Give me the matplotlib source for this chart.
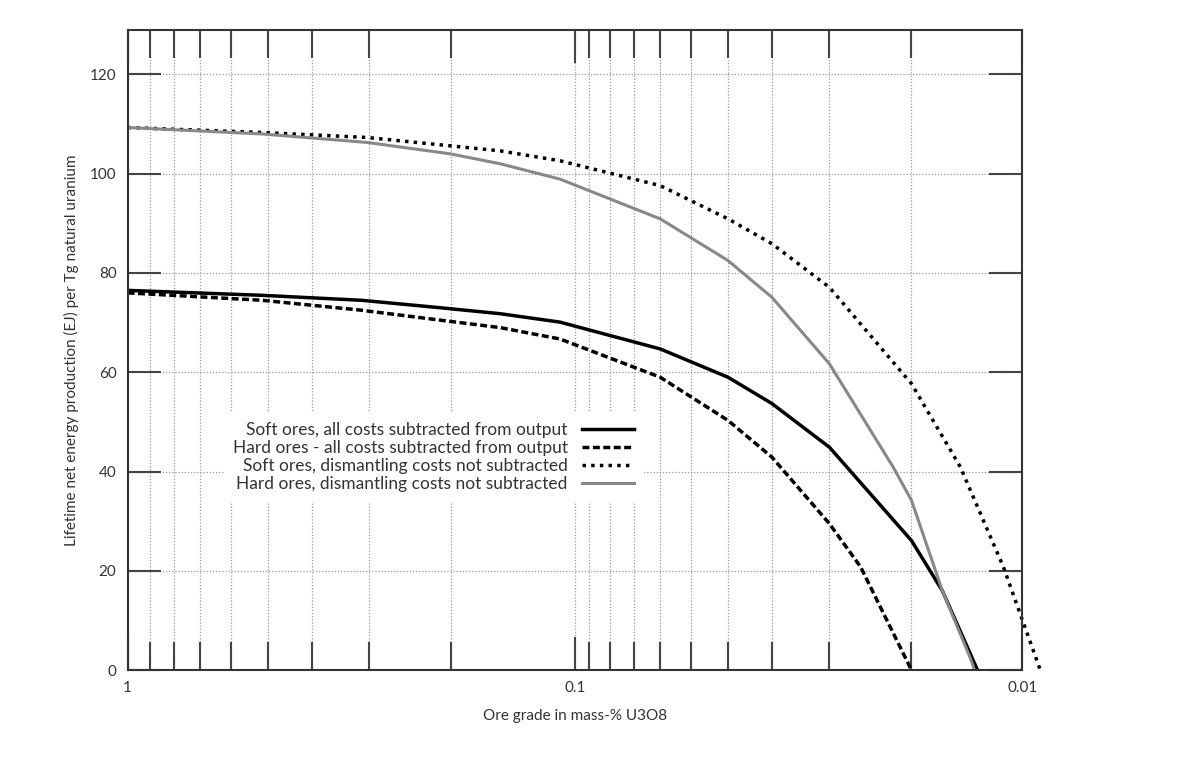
import matplotlib
matplotlib.use("Agg")
import matplotlib.pyplot as plt
from matplotlib.ticker import FixedLocator, NullFormatter

plt.rcParams['font.family'] = ['Lato', 'DejaVu Sans']

grade_soft = [1, 0.5, 0.3, 0.2, 0.147, 0.108, 0.0645, 0.0455, 0.0363, 0.027, 0.0177, 0.0151, 0.0126]
soft_all = [76.5, 75.5, 74.5, 73, 71.8, 70.1, 64.7, 59, 53.7, 44.9, 26.1, 16, 0]
grade_hard = [1, 0.5, 0.3, 0.2, 0.147, 0.108, 0.0645, 0.0455, 0.0363, 0.027, 0.023, 0.0177]
hard_all = [76, 74.5, 72.5, 70.5, 69, 66.7, 59, 50.3, 42.9, 29.5, 20.8, 0]
grade_sd = [1, 0.5, 0.292, 0.147, 0.108, 0.0645, 0.0455, 0.0363, 0.027, 0.0177, 0.01376, 0.01103, 0.00912]
soft_dis = [109.3, 108.3, 107.3, 104.6, 102.6, 97.6, 90.9, 85.9, 77.1, 57.7, 40.9, 20.8, 0]
grade_hd = [1, 0.5, 0.292, 0.19, 0.147, 0.108, 0.0645, 0.0455, 0.0363, 0.027, 0.01945, 0.0177, 0.0151, 0.01306, 0.0128]
hard_dis = [109.3, 108, 106.3, 104, 102, 98.9, 90.9, 82.5, 75.1, 61.7, 40.9, 34.2, 16, 2.3, 0]

# vertical grid/minor tick positions as seen in the reference
minor_grid = [0.893, 0.789, 0.690, 0.588, 0.486, 0.388, 0.289, 0.189,
              0.093, 0.0835, 0.0738, 0.0645, 0.055, 0.0455, 0.0363, 0.027, 0.0177]

fig = plt.figure(figsize=(11.82, 7.82), dpi=100)
ax = fig.add_axes([0.108, 0.143, 0.757, 0.819])
ax.set_xscale('log')
ax.set_xlim(1, 0.01)
ax.set_ylim(0, 129)

ax.xaxis.set_minor_locator(FixedLocator(minor_grid))
ax.xaxis.set_minor_formatter(NullFormatter())

gs = dict(color='#999999', linestyle=(0, (1, 1.5)), linewidth=0.9)
ax.grid(True, which='both', axis='x', **gs)
ax.grid(True, which='major', axis='y', **gs)

ax.plot(grade_soft, soft_all, color='black', lw=2.5, label='Soft ores, all costs subtracted from output')
ax.plot(grade_hard, hard_all, color='black', lw=2.5, ls=(0, (2, 1)), label='Hard ores - all costs subtracted from output')
ax.plot(grade_sd, soft_dis, color='black', lw=2.5, ls=(0, (1, 1.5)), label='Soft ores, dismantling costs not subtracted', clip_on=False)
ax.plot(grade_hd, hard_dis, color='#888888', lw=2.2, label='Hard ores, dismantling costs not subtracted')

ax.set_yticks([0, 20, 40, 60, 80, 100, 120])
ax.set_xticks([1, 0.1, 0.01])
ax.set_xticklabels(['1', '0.1', '0.01'])
ax.tick_params(which='major', direction='in', length=24, width=1.5, color='#444444',
               top=True, right=True, labelsize=11, labelcolor='#333333', pad=8)
ax.tick_params(which='minor', direction='in', length=20, width=1.5, color='#444444',
               top=True, bottom=True)
for s in ax.spines.values():
    s.set_linewidth(1.5)
    s.set_color('#333333')

ax.set_xlabel('Ore grade in mass-% U3O8', fontsize=11, color='#333333', labelpad=10)
ax.set_ylabel('Lifetime net energy production (EJ) per Tg natural uranium', fontsize=11, color='#333333', labelpad=8)

leg = ax.legend(loc='upper right', bbox_to_anchor=(0.585, 0.415), markerfirst=False,
                frameon=True, framealpha=1, edgecolor='white', fontsize=12.5,
                handlelength=3, labelspacing=0.12, borderpad=0.5, handletextpad=0.8)
for t in leg.get_texts():
    t.set_ha('right')
    t.set_color('#333333')
leg._legend_box.align = 'right'

fig.savefig('out.png', dpi=100, facecolor='white')
